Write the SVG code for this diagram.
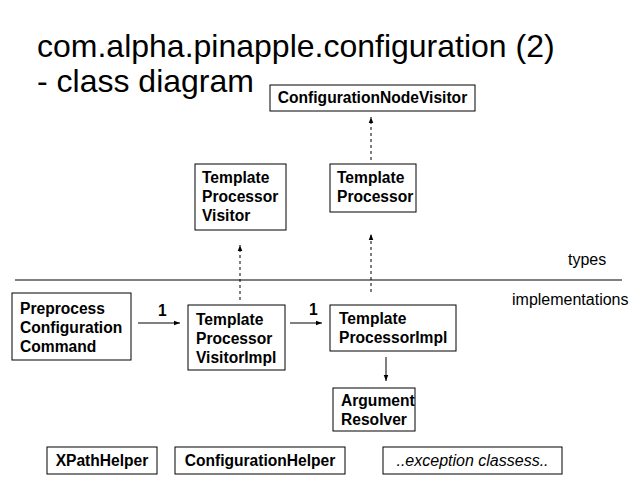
<svg xmlns="http://www.w3.org/2000/svg" width="640" height="480" viewBox="0 0 640 480">
<defs>
<style>
.box{fill:#fff;stroke:#000;stroke-width:1}
.t{font-family:"Liberation Sans",Arial,sans-serif;font-size:15.6px;font-weight:bold;fill:#000}
.n{font-family:"Liberation Sans",Arial,sans-serif;font-size:16px;fill:#000}
.title{font-family:"Liberation Sans",Arial,sans-serif;font-size:32px;fill:#000}
.c{stroke:#000;stroke-width:1;fill:none}
.d{stroke-dasharray:3,3}
</style>
<marker id="ah" viewBox="0 0 8 8" refX="8" refY="4" markerWidth="6" markerHeight="6" orient="auto">
<path d="M0,1 L8,4 L0,7 z" fill="#000"/>
</marker>
</defs>
<rect width="640" height="480" fill="#fff"/>
<text class="title" x="37" y="57">com.alpha.pinapple.configuration (2)</text>
<text class="title" x="37" y="92">- class diagram</text>
<line x1="15" y1="280" x2="622" y2="280" stroke="#000" stroke-width="1"/>
<text class="n" x="568" y="265">types</text>
<text class="n" x="512" y="305">implementations</text>
<g id="connectors">
<line class="c d" x1="371" y1="160" x2="371" y2="117" marker-end="url(#ah)"/>
<line class="c d" x1="240" y1="300" x2="240" y2="245" marker-end="url(#ah)"/>
<line class="c d" x1="371" y1="292" x2="371" y2="234" marker-end="url(#ah)"/>
<line class="c" x1="138" y1="323" x2="180" y2="323" marker-end="url(#ah)"/>
<text class="t" x="158" y="316">1</text>
<line class="c" x1="290" y1="323" x2="322" y2="323" marker-end="url(#ah)"/>
<text class="t" x="309" y="315">1</text>
<line class="c" x1="386" y1="357" x2="386" y2="381" marker-end="url(#ah)"/>
</g>
<g id="ConfigurationNodeVisitor">
<rect class="box" x="270" y="85" width="205" height="26"/>
<text class="t" x="372.5" y="103" text-anchor="middle">ConfigurationNodeVisitor</text>
</g>
<g id="TemplateProcessorVisitor">
<rect class="box" x="195" y="164" width="91" height="66"/>
<text class="t" x="202" y="183">Template</text>
<text class="t" x="202" y="202">Processor</text>
<text class="t" x="202" y="221">Visitor</text>
</g>
<g id="TemplateProcessor">
<rect class="box" x="330" y="164" width="86" height="48"/>
<text class="t" x="337" y="183">Template</text>
<text class="t" x="337" y="202">Processor</text>
</g>
<g id="PreprocessConfigurationCommand">
<rect class="box" x="12" y="293" width="119" height="67"/>
<text class="t" x="20" y="314">Preprocess</text>
<text class="t" x="20" y="333">Configuration</text>
<text class="t" x="20" y="352">Command</text>
</g>
<g id="TemplateProcessorVisitorImpl">
<rect class="box" x="188" y="305" width="97" height="65"/>
<text class="t" x="196" y="325">Template</text>
<text class="t" x="196" y="344">Processor</text>
<text class="t" x="196" y="363">VisitorImpl</text>
</g>
<g id="TemplateProcessorImpl">
<rect class="box" x="330" y="305" width="126" height="46"/>
<text class="t" x="339" y="324">Template</text>
<text class="t" x="339" y="343">ProcessorImpl</text>
</g>
<g id="ArgumentResolver">
<rect class="box" x="333" y="388" width="82" height="43"/>
<text class="t" x="341" y="406">Argument</text>
<text class="t" x="341" y="425">Resolver</text>
</g>
<g id="XPathHelper">
<rect class="box" x="47" y="447" width="110" height="27"/>
<text class="t" x="102" y="466" text-anchor="middle">XPathHelper</text>
</g>
<g id="ConfigurationHelper">
<rect class="box" x="175" y="447" width="170" height="27"/>
<text class="t" x="260" y="466" text-anchor="middle">ConfigurationHelper</text>
</g>
<g id="ExceptionClasses">
<rect class="box" x="383" y="447" width="179" height="27"/>
<text class="n" x="472.5" y="466" text-anchor="middle" font-style="italic" font-size="17px">..exception classess..</text>
</g>
</svg>
